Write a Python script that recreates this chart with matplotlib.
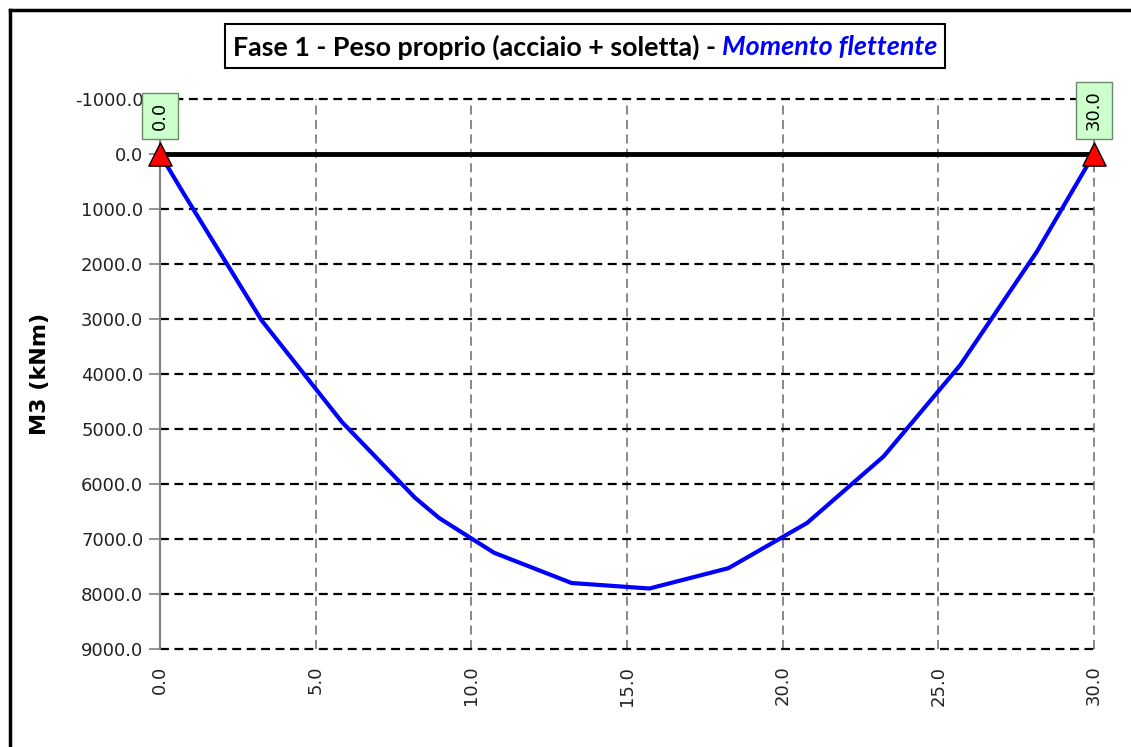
import numpy as np
import matplotlib
matplotlib.use("Agg")
import matplotlib.pyplot as plt
from matplotlib.patches import Rectangle

# progressive lungo la trave (m) e momento M3 (kNm)
x_pos = [0.0, 0.74, 3.27, 5.84, 8.19, 8.97, 10.73, 13.22, 15.72, 18.26, 20.78, 23.24, 25.70, 28.16, 30.0]
m3 = [0.0, 700.0, 3030.0, 4870.0, 6250.0, 6620.0, 7250.0, 7800.0, 7900.0, 7530.0, 6710.0, 5500.0, 3840.0, 1780.0, 0.0]

# appoggi
appoggi = [0.0, 30.0]

x_ticks = [0, 5, 10, 15, 20, 25, 30]
y_ticks = list(range(-1000, 10000, 1000))

W, H = 1131, 747
fig = plt.figure(figsize=(W / 100, H / 100), dpi=100)
fig.patch.set_facecolor("white")

# cornice esterna del grafico
fig.add_artist(plt.Line2D([10 / W, 10 / W], [0, 1 - 10 / H], color="black", lw=2.5,
                          transform=fig.transFigure))
fig.add_artist(plt.Line2D([10 / W, 1], [1 - 10 / H, 1 - 10 / H], color="black", lw=2.5,
                          transform=fig.transFigure))

ax = fig.add_axes([160 / W, 1 - 649 / H, 934 / W, 550 / H])
ax.set_xlim(0, 30)
ax.set_ylim(9000, -1000)

# griglia
for xv in x_ticks[1:]:
    ax.axvline(xv, color="#808080", lw=1.3, ls=(0, (5, 3)), zorder=1, clip_on=False)
for yv in y_ticks:
    ax.axhline(yv, color="black", lw=1.6, ls=(0, (4, 2.5)), zorder=1, clip_on=False)

for s in ["top", "right", "bottom"]:
    ax.spines[s].set_visible(False)
ax.spines["left"].set_color("#808080")
ax.spines["left"].set_linewidth(1.5)

ax.set_xticks(x_ticks)
ax.set_xticklabels([f"{v:.1f}" for v in x_ticks], rotation=90)
ax.set_yticks(y_ticks)
ax.set_yticklabels([f"{v:.1f}" for v in y_ticks])
ax.tick_params(axis="y", length=8, width=1.2, color="#808080", labelsize=13, pad=4,
               labelcolor="#222222")
ax.tick_params(axis="x", length=0, labelsize=13, pad=12, labelcolor="#222222")

ax.set_ylabel("M3 (kNm)", fontsize=16, fontweight="bold", labelpad=18)

# asse trave
ax.plot([0, 30], [0, 0], color="black", lw=3.5, zorder=3, clip_on=False)

# diagramma del momento
ax.plot(x_pos, m3, color="#0000ff", lw=3, zorder=4, clip_on=False)

# appoggi e etichette
ax.scatter(appoggi, [0, 0], marker="^", s=280, color="red", edgecolor="black",
           linewidth=1, zorder=5, clip_on=False)
for xa in appoggi:
    ax.annotate(f"{xa:.1f}", xy=(xa, 0), xytext=(0, 17), textcoords="offset points",
                rotation=90, ha="center", va="bottom", fontsize=13, zorder=6,
                bbox=dict(boxstyle="square,pad=0.5", fc="#ccffcc", ec="#6a8a6a", lw=1))

# titolo in riquadro, dimensionato sulla larghezza voluta
fig.canvas.draw()
r = fig.canvas.get_renderer()
fs = 15
t1 = fig.text(0, 1 - 47 / H, "Fase 1 - Peso proprio (acciaio + soletta) - ",
              fontsize=fs, fontweight="bold", family="Lato", va="center", ha="left")
t2 = fig.text(0, 1 - 47 / H, "Momento flettente", fontsize=fs, fontweight="bold",
              fontstyle="italic", family="Lato", color="#0000ff", va="center", ha="left")
w_tot = t1.get_window_extent(r).width + t2.get_window_extent(r).width
fs = fs * 708 / w_tot
t1.set_fontsize(fs)
t2.set_fontsize(fs)
w1 = t1.get_window_extent(r).width
w2 = t2.get_window_extent(r).width
cx = 585
x0 = cx - (w1 + w2) / 2
t1.set_x(x0 / W)
t2.set_x((x0 + w1) / W)
pad = 8
fig.add_artist(Rectangle(((x0 - pad) / W, 1 - 68 / H), (w1 + w2 + 2 * pad) / W, 44 / H,
                         transform=fig.transFigure, fill=False, ec="black", lw=1.5))

fig.savefig("out.png", dpi=100, facecolor="white")
